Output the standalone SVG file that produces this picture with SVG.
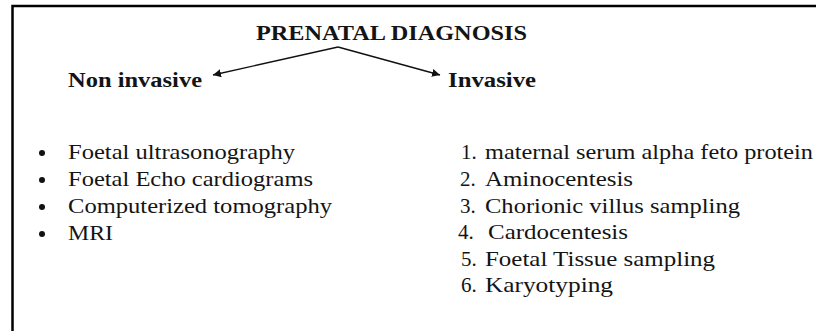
<svg xmlns="http://www.w3.org/2000/svg" width="816" height="331" viewBox="0 0 816 331">
<defs>
<style>
.t{font-family:"Liberation Serif","Times New Roman",serif;fill:#141414}
.b{font-weight:bold;font-size:20.5px}
.r{font-size:21px}
.c{stroke:#111;stroke-width:1.4;fill:none}
</style>
<marker id="ah" viewBox="0 0 10 10" refX="10" refY="5" markerWidth="8" markerHeight="8" markerUnits="userSpaceOnUse" orient="auto">
<path d="M0,0 L10,5 L0,10 z" fill="#111"/>
</marker>
</defs>
<rect width="816" height="331" fill="#fff"/>
<path d="M12.5,331 V6 H816" stroke="#000" stroke-width="2.5" fill="none"/>
<g id="title"><text class="t b" x="256" y="40" textLength="271" lengthAdjust="spacingAndGlyphs">PRENATAL DIAGNOSIS</text></g>
<g id="noninvasive"><text class="t b" x="68" y="87" textLength="134" lengthAdjust="spacingAndGlyphs">Non invasive</text></g>
<g id="invasive"><text class="t b" x="448" y="87" textLength="88" lengthAdjust="spacingAndGlyphs">Invasive</text></g>
<g id="connectors">
<path class="c" d="M338,47 L213,75" marker-end="url(#ah)"/>
<path class="c" d="M338,47 L440,75" marker-end="url(#ah)"/>
</g>
<g id="noninvasive-list">
<circle cx="42" cy="153" r="3" fill="#111"/>
<circle cx="42" cy="180" r="3" fill="#111"/>
<circle cx="42" cy="207" r="3" fill="#111"/>
<circle cx="42" cy="234" r="3" fill="#111"/>
<text class="t r" x="68" y="159" textLength="227" lengthAdjust="spacingAndGlyphs">Foetal ultrasonography</text>
<text class="t r" x="68" y="186" textLength="245" lengthAdjust="spacingAndGlyphs">Foetal Echo cardiograms</text>
<text class="t r" x="68" y="213" textLength="264" lengthAdjust="spacingAndGlyphs">Computerized tomography</text>
<text class="t r" x="68" y="240" textLength="45" lengthAdjust="spacingAndGlyphs">MRI</text>
</g>
<g id="invasive-list">
<text class="t r" x="461" y="159">1.</text>
<text class="t r" x="485" y="159" textLength="328" lengthAdjust="spacingAndGlyphs">maternal serum alpha feto protein</text>
<text class="t r" x="460" y="186">2.</text>
<text class="t r" x="485" y="186" textLength="148" lengthAdjust="spacingAndGlyphs">Aminocentesis</text>
<text class="t r" x="460" y="213">3.</text>
<text class="t r" x="485" y="213" textLength="255" lengthAdjust="spacingAndGlyphs">Chorionic villus sampling</text>
<text class="t r" x="458" y="239">4.</text>
<text class="t r" x="488" y="239" textLength="140" lengthAdjust="spacingAndGlyphs">Cardocentesis</text>
<text class="t r" x="461" y="266">5.</text>
<text class="t r" x="485" y="266" textLength="230" lengthAdjust="spacingAndGlyphs">Foetal Tissue sampling</text>
<text class="t r" x="461" y="292">6.</text>
<text class="t r" x="485" y="292" textLength="128" lengthAdjust="spacingAndGlyphs">Karyotyping</text>
</g>
</svg>
